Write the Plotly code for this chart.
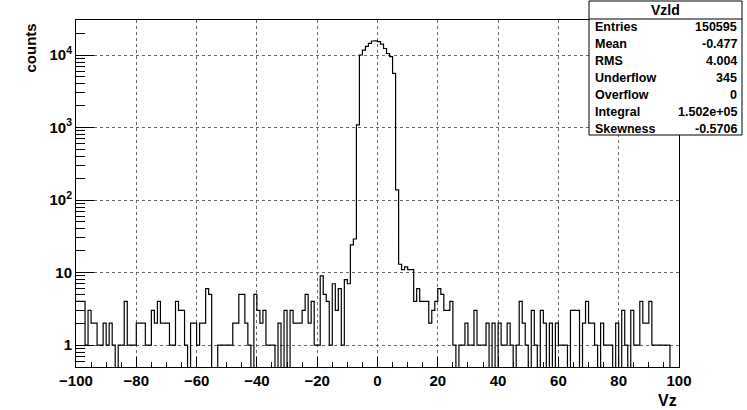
import numpy as np
import plotly.graph_objects as go

# ---- data ----
bin_low = -100.0
bin_high = 100.0
counts = [
    4, 4, 4, 1, 3, 2, 2, 1, 1, 2, 1, 2, 1, 0, 1, 1, 4, 1, 1, 1,
    2, 2, 2, 1, 1, 3, 2, 4, 2, 2, 2, 1, 1, 4, 3, 3, 1, 0, 2, 2,
    1, 2, 2, 6, 5, 0, 0, 1, 1, 1, 1, 1, 2, 2, 5, 5, 2, 1, 0, 5,
    3, 2, 3, 1, 1, 1, 0, 2, 0, 3, 0, 3, 2, 2, 2, 3, 5, 2, 4, 1,
    1, 9, 5, 4, 1, 7, 3, 6, 1, 8, 7, 24, 29, 1090, 10000, 11700, 13200, 14500, 15600, 15700,
    15300, 14100, 12300, 10500, 9500, 5600, 138, 13, 11, 12, 11, 11, 4, 6, 4, 4, 4, 2, 3, 4,
    6, 5, 3, 3, 4, 1, 0, 1, 1, 2, 1, 1, 3, 1, 1, 1, 2, 0, 2, 0,
    2, 1, 1, 2, 1, 0, 1, 4, 2, 1, 0, 3, 1, 0, 3, 2, 0, 2, 0, 2,
    1, 1, 1, 0, 3, 3, 3, 0, 2, 4, 2, 2, 1, 0, 2, 1, 1, 1, 0, 2,
    0, 3, 1, 0, 3, 1, 1, 4, 2, 2, 4, 1, 1, 1, 1, 1, 1, 0, 0, 0,
]
x_ticks = [-100, -80, -60, -40, -20, 0, 20, 40, 60, 80, 100]
y_tickvals = [1, 10, 100, 1000, 10000]
y_ticktext = ["1", "10", "10<sup>2</sup>", "10<sup>3</sup>", "10<sup>4</sup>"]
stats_title = "Vzld"
stats_labels = ["Entries", "Mean", "RMS", "Underflow", "Overflow", "Integral", "Skewness"]
stats_values = ["150595", "-0.477", "4.004", "345", "0", "1.502e+05", "-0.5706"]
x_title = "Vz"
y_title = "counts"

# ---- figure ----
W, H = 747, 410
L, R, T, B = 76, 679, 20, 367  # frame in pixels


def px(x):
    return (x - L) / (R - L)


def py(y):
    return (B - y) / (B - T)


cnt = np.array(counts, dtype=float)
nb = len(cnt)
edges = np.linspace(bin_low, bin_high, nb + 1)
draw = np.where(cnt > 0, cnt, 1e-3)  # empty bins drop to the frame bottom (log axis)
ystep = np.append(draw, draw[-1])

FONT = "Liberation Sans, Arial, Helvetica, sans-serif"

fig = go.Figure()
fig.add_trace(go.Scatter(
    x=edges, y=ystep, mode="lines", line_shape="hv",
    line=dict(color="black", width=1.2), showlegend=False, hoverinfo="skip",
))

minor_y = [m * 10.0 ** e for e in range(-1, 5) for m in range(2, 10)]

fig.update_layout(
    width=W, height=H,
    margin=dict(l=L, r=W - R, t=T, b=H - B, pad=0),
    paper_bgcolor="white", plot_bgcolor="white",
    font=dict(family=FONT, color="black"),
    xaxis=dict(
        range=[bin_low, bin_high], tickvals=x_ticks,
        ticks="inside", ticklen=10, tickcolor="black", tickwidth=1,
        minor=dict(dtick=5, ticks="inside", ticklen=5, tickcolor="black", showgrid=False),
        showgrid=True, gridcolor="#666", griddash="dot", gridwidth=1,
        zeroline=False, showline=True, linecolor="black", linewidth=1, mirror=True,
        tickfont=dict(size=15, weight="bold", family=FONT),
    ),
    yaxis=dict(
        type="log", range=[-0.303, 4.483],
        tickvals=y_tickvals, ticktext=y_ticktext,
        ticks="inside", ticklen=18, tickcolor="black", tickwidth=1,
        minor=dict(tickvals=minor_y, ticks="inside", ticklen=9, tickcolor="black", showgrid=False),
        showgrid=True, gridcolor="#666", griddash="dot", gridwidth=1,
        zeroline=False, showline=True, linecolor="black", linewidth=1, mirror=True,
        tickfont=dict(size=15, weight="bold", family=FONT),
    ),
)

# axis titles
fig.add_annotation(x=px(R), y=py(400), xref="paper", yref="paper", text=x_title,
                   showarrow=False, xanchor="right", yanchor="middle",
                   font=dict(size=16, weight="bold", family=FONT))
fig.add_annotation(x=px(30), y=py(T + 2), xref="paper", yref="paper", text=y_title,
                   showarrow=False, textangle=-90, xanchor="center", yanchor="top",
                   font=dict(size=15, weight="bold", family=FONT))

# stats box
bx0, bx1, by0, by1, hy = 589, 742, 1, 135, 19
fig.add_shape(type="rect", xref="paper", yref="paper",
              x0=px(bx0), x1=px(bx1), y0=py(by1), y1=py(by0),
              line=dict(color="black", width=1), fillcolor="white", layer="above")
fig.add_shape(type="line", xref="paper", yref="paper",
              x0=px(bx0), x1=px(bx1), y0=py(hy), y1=py(hy),
              line=dict(color="black", width=1), layer="above")
fig.add_annotation(x=px((bx0 + bx1) / 2), y=py(10), xref="paper", yref="paper",
                   text=stats_title, showarrow=False, xanchor="center", yanchor="middle",
                   font=dict(size=14, weight="bold", family=FONT))
for i, (lab, val) in enumerate(zip(stats_labels, stats_values)):
    yy = 27 + 17 * i
    fig.add_annotation(x=px(bx0 + 4), y=py(yy), xref="paper", yref="paper", text=lab,
                       showarrow=False, xanchor="left", yanchor="middle",
                       font=dict(size=12.5, weight="bold", family=FONT))
    fig.add_annotation(x=px(bx1 - 3), y=py(yy), xref="paper", yref="paper", text=val,
                       showarrow=False, xanchor="right", yanchor="middle",
                       font=dict(size=12.5, weight="bold", family=FONT))

fig.write_html("out.html",
               config={"displayModeBar": False, "staticPlot": True},
               post_script="document.body.style.margin='0';document.body.style.padding='0';")
